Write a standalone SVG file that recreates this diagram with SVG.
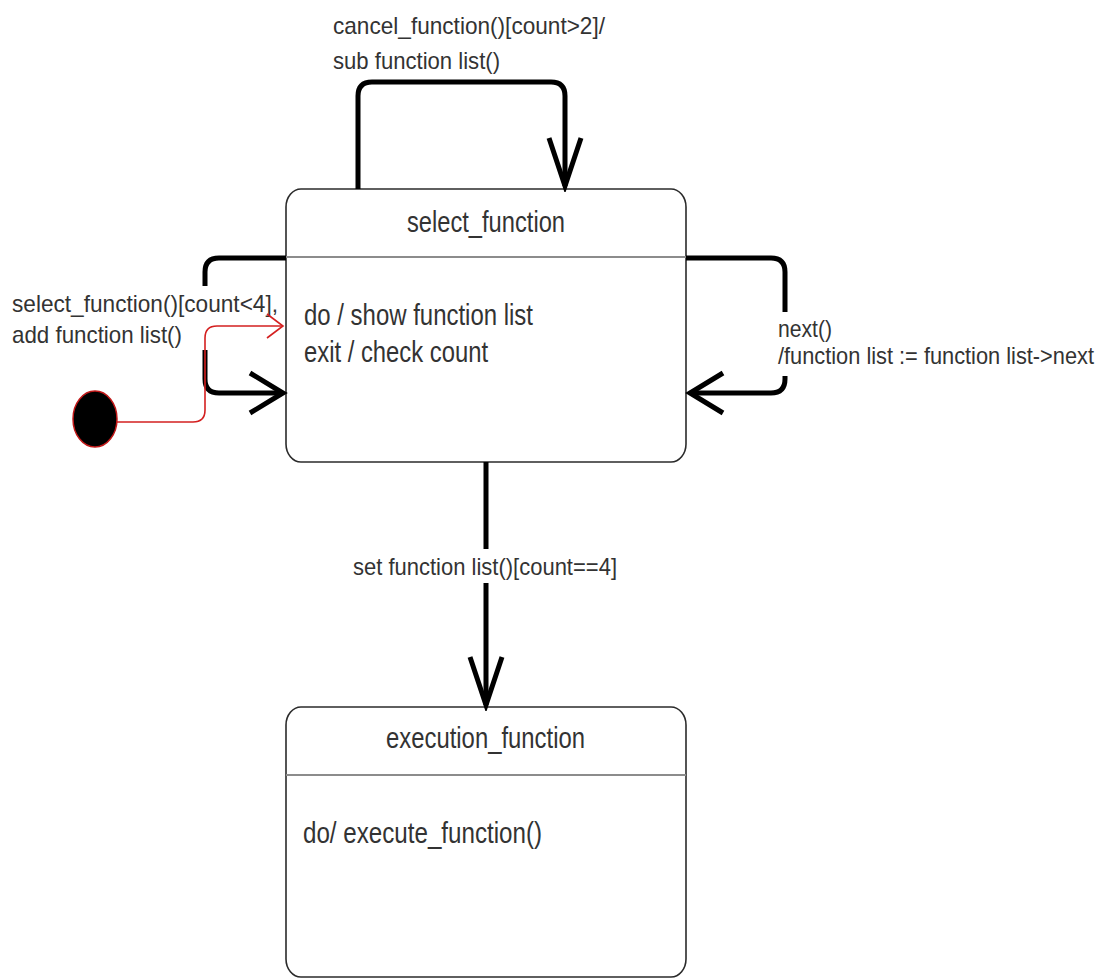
<svg xmlns="http://www.w3.org/2000/svg" width="1108" height="979" viewBox="0 0 1108 979">
<style>
  .state { fill: #ffffff; stroke: #2b2b2b; stroke-width: 1.6; }
  .sep { stroke: #8c8c8c; stroke-width: 2; }
  .title { font-family: "Liberation Sans", Arial, sans-serif; font-size: 30px; fill: #333333; }
  .body { font-family: "Liberation Sans", Arial, sans-serif; font-size: 29px; fill: #333333; }
  .lbl { font-family: "Liberation Sans", Arial, sans-serif; font-size: 24px; fill: #333333; }
  .edge { fill: none; stroke: #000000; stroke-width: 5; stroke-linejoin: round; }
  .init { fill: none; stroke: #d42020; stroke-width: 1.6; }
  .lblbg { fill: #ffffff; stroke: none; }
</style>
<defs>
  <marker id="arrV" markerUnits="userSpaceOnUse" viewBox="-52 -22 58 44" refX="0" refY="0" markerWidth="58" markerHeight="44" orient="auto">
    <path d="M-48,-16 L0,0 L-48,16" fill="none" stroke="#000" stroke-width="5" stroke-linejoin="miter"/>
  </marker>
  <marker id="arrH" markerUnits="userSpaceOnUse" viewBox="-38 -26 44 52" refX="0" refY="0" markerWidth="44" markerHeight="52" orient="auto">
    <path d="M-33,-20 L0,0 L-33,20" fill="none" stroke="#000" stroke-width="5" stroke-linejoin="miter"/>
  </marker>
  <marker id="arrRed" markerUnits="userSpaceOnUse" viewBox="-20 -15 24 30" refX="0" refY="0" markerWidth="24" markerHeight="30" orient="auto">
    <path d="M-16,-12 L0,0 L-16,12" fill="none" stroke="#d42020" stroke-width="1.6"/>
  </marker>
</defs>
<rect width="1108" height="979" fill="#ffffff"/>

<g id="select_function">
  <rect class="state" x="286" y="189" width="400" height="273" rx="15" ry="18"/>
  <line class="sep" x1="286" y1="257" x2="686" y2="257"/>
  <text class="title" x="407" y="232" textLength="158" lengthAdjust="spacingAndGlyphs">select_function</text>
  <text class="body" x="304" y="325" textLength="229" lengthAdjust="spacingAndGlyphs">do / show function list</text>
  <text class="body" x="304" y="362" textLength="184" lengthAdjust="spacingAndGlyphs">exit / check count</text>
</g>

<g id="execution_function">
  <rect class="state" x="286" y="707" width="400" height="270" rx="15" ry="18"/>
  <line class="sep" x1="286" y1="775" x2="686" y2="775"/>
  <text class="title" x="386" y="748" textLength="199" lengthAdjust="spacingAndGlyphs">execution_function</text>
  <text class="body" x="303" y="843" textLength="239" lengthAdjust="spacingAndGlyphs">do/ execute_function()</text>
</g>

<g id="connectors">
  <path class="edge" d="M358,189 L358,96 Q358,82 372,82 L551,82 Q565,82 565,96 L565,186" marker-end="url(#arrV)"/>
  <path class="edge" d="M286,258 L219,258 Q205,258 205,272 L205,379 Q205,393 219,393 L283,393" marker-end="url(#arrH)"/>
  <path class="edge" d="M686,258 L771,258 Q785,258 785,272 L785,379 Q785,393 771,393 L690,393" marker-end="url(#arrH)"/>
  <path class="edge" d="M486,462 L486,705" marker-end="url(#arrV)"/>

  <rect class="lblbg" x="8" y="286" width="274" height="64"/>
  <rect class="lblbg" x="774" y="312" width="328" height="64"/>
  <rect class="lblbg" x="350" y="549" width="270" height="34"/>

  <text class="lbl" x="333" y="34" textLength="272" lengthAdjust="spacingAndGlyphs">cancel_function()[count&gt;2]/</text>
  <text class="lbl" x="333" y="69" textLength="167" lengthAdjust="spacingAndGlyphs">sub function list()</text>
  <text class="lbl" x="12" y="312" textLength="266" lengthAdjust="spacingAndGlyphs">select_function()[count&lt;4],</text>
  <text class="lbl" x="12" y="343" textLength="170" lengthAdjust="spacingAndGlyphs">add function list()</text>
  <text class="lbl" x="778" y="337" textLength="54" lengthAdjust="spacingAndGlyphs">next()</text>
  <text class="lbl" x="778" y="364" textLength="316" lengthAdjust="spacingAndGlyphs">/function list := function list-&gt;next</text>
  <text class="lbl" x="353" y="575" textLength="264" lengthAdjust="spacingAndGlyphs">set function list()[count==4]</text>

  <path class="init" d="M117,422 L193,422 Q205,422 205,410 L205,338 Q205,326 217,326 L283,326" marker-end="url(#arrRed)"/>
</g>

<g id="initial">
  <ellipse cx="95" cy="419" rx="22" ry="28" fill="#000000" stroke="#c01818" stroke-width="1.5"/>
</g>
</svg>
